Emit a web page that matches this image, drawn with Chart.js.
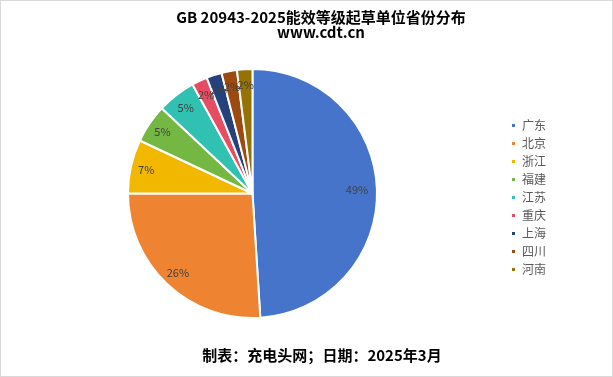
<!DOCTYPE html>
<html>
<head>
<meta charset="utf-8">
<script src="https://cdn.jsdelivr.net/npm/chart.js@4/dist/chart.umd.min.js"></script>
<style>
    html, body { margin: 0; padding: 0; background: #fff; }
    #wrap { width: 613px; height: 377px; position: relative; }
</style>
</head>
<body>
<div id="wrap"><canvas id="pie-chart" width="613" height="377"></canvas></div>
<script>
var provinces = ['广东', '北京', '浙江', '福建', '江苏', '重庆', '上海', '四川', '河南'];
var shares = [49, 26, 7, 5, 5, 2, 2, 2, 2];
var sliceColors = ['#4674CB', '#EE8431', '#F2B800', '#74B843', '#30C1B2', '#E64D62', '#26427D', '#9C4A10', '#967104'];

var titleText = 'GB 20943-2025能效等级起草单位省份分布';
var subtitleText = 'www.cdt.cn';
var footerText = '制表：充电头网；日期：2025年3月';

var fontFamily = '"Noto Sans CJK SC", "Noto Sans", sans-serif';

// titles, footer and the thin outer frame
var textPlugin = {
    id: 'chartTexts',
    afterDraw: function(chart) {
        var ctx = chart.ctx;
        ctx.save();
        ctx.strokeStyle = '#d9d9d9';
        ctx.lineWidth = 1;
        ctx.strokeRect(0.5, 0.5, chart.width - 1, chart.height - 1);
        ctx.fillStyle = '#000';
        ctx.textAlign = 'center';
        ctx.textBaseline = 'alphabetic';
        ctx.font = 'bold 15px ' + fontFamily;
        ctx.fillText(titleText, 321, 23);
        ctx.fillText(subtitleText, 321, 38);
        ctx.fillText(footerText, 322, 361);
        ctx.restore();
    }
};

// percentage labels inside each slice
var labelPlugin = {
    id: 'sliceLabels',
    afterDatasetsDraw: function(chart) {
        var ctx = chart.ctx;
        var meta = chart.getDatasetMeta(0);
        ctx.save();
        ctx.fillStyle = '#404040';
        ctx.font = '11px ' + fontFamily;
        ctx.textAlign = 'center';
        ctx.textBaseline = 'middle';
        meta.data.forEach(function(arc, i) {
            var mid = (arc.startAngle + arc.endAngle) / 2;
            var r = arc.outerRadius * (i === 0 ? 0.84 : 0.875);
            ctx.fillText(shares[i] + '%', arc.x + Math.cos(mid) * r, arc.y + Math.sin(mid) * r);
        });
        ctx.restore();
    }
};

var ctx = document.getElementById('pie-chart').getContext('2d');
new Chart(ctx, {
    type: 'pie',
    data: {
        labels: provinces,
        datasets: [{
            data: shares,
            backgroundColor: sliceColors,
            borderColor: '#ffffff',
            borderWidth: 2
        }]
    },
    options: {
        responsive: false,
        animation: false,
        layout: {
            padding: { top: 68, bottom: 58, left: 0, right: 57 }
        },
        plugins: {
            title: { display: false },
            tooltip: { enabled: false },
            legend: {
                position: 'right',
                // empty title only to push the items down a little
                title: {
                    display: true,
                    text: '',
                    font: { size: 1 },
                    padding: { top: 7, bottom: 0 }
                },
                labels: {
                    boxWidth: 5,
                    boxHeight: 5,
                    padding: 6,
                    color: '#595959',
                    font: { size: 12, family: fontFamily }
                }
            }
        }
    },
    plugins: [textPlugin, labelPlugin]
});
</script>
</body>
</html>
